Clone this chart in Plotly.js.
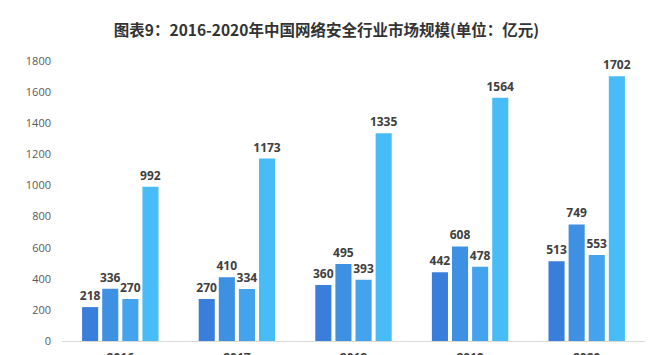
<!DOCTYPE html>
<html>
<head>
<meta charset="utf-8">
<script src="https://cdn.plot.ly/plotly-3.0.1.min.js"></script>
<style>html,body{margin:0;padding:0;background:#fff;}#chart{width:653px;height:355px;}</style>
</head>
<body>
<div id="chart"></div>
<script>
const years = ['2016', '2017', '2018', '2019', '2020'];
const series1 = [218, 270, 360, 442, 513];
const series2 = [336, 410, 495, 608, 749];
const series3 = [270, 334, 393, 478, 553];
const series4 = [992, 1173, 1335, 1564, 1702];
const seriesNames = ['系列1', '系列2', '系列3', '系列4'];
const colors = ['#3a7edb', '#3e90e3', '#43a3ec', '#48bcf6'];

const allSeries = [series1, series2, series3, series4];
const traces = allSeries.map((vals, i) => ({
  type: 'bar',
  name: seriesNames[i],
  x: years,
  y: vals,
  marker: {color: colors[i]},
  text: vals.map(String),
  textposition: 'outside',
  constraintext: 'none',
  cliponaxis: false,
  textfont: {family: 'Open Sans, sans-serif', size: 12, color: '#404040', weight: 'bold'},
  hoverinfo: 'x+y'
}));

const layout = {
  width: 653,
  height: 355,
  margin: {l: 62, r: 8, t: 61, b: 14},
  paper_bgcolor: '#ffffff',
  plot_bgcolor: '#ffffff',
  showlegend: false,
  barmode: 'group',
  bargap: 0.31,
  bargroupgap: 0.2,
  title: {
    text: '图表9：2016-2020年中国网络安全行业市场规模(单位：亿元)',
    font: {family: 'Noto Sans CJK SC, sans-serif', size: 15.5, color: '#333333', weight: 'bold'},
    x: 0.5, xanchor: 'center', xref: 'container',
    y: 22, yref: 'container', yanchor: 'middle'
  },
  xaxis: {
    type: 'category',
    showgrid: false,
    showline: true,
    linecolor: '#d9d9d9',
    linewidth: 1,
    ticks: '',
    ticklabelstandoff: 6,
    tickfont: {family: 'Open Sans, sans-serif', size: 12, color: '#404040', weight: 'bold'},
    zeroline: false
  },
  yaxis: {
    range: [0, 1800],
    dtick: 200,
    tick0: 0,
    showgrid: false,
    showline: false,
    zeroline: false,
    ticks: '',
    ticklabelstandoff: 10,
    tickfont: {family: 'Open Sans, sans-serif', size: 11, color: '#595959'}
  }
};

Plotly.newPlot('chart', traces, layout, {displayModeBar: false, staticPlot: true});
</script>
</body>
</html>
